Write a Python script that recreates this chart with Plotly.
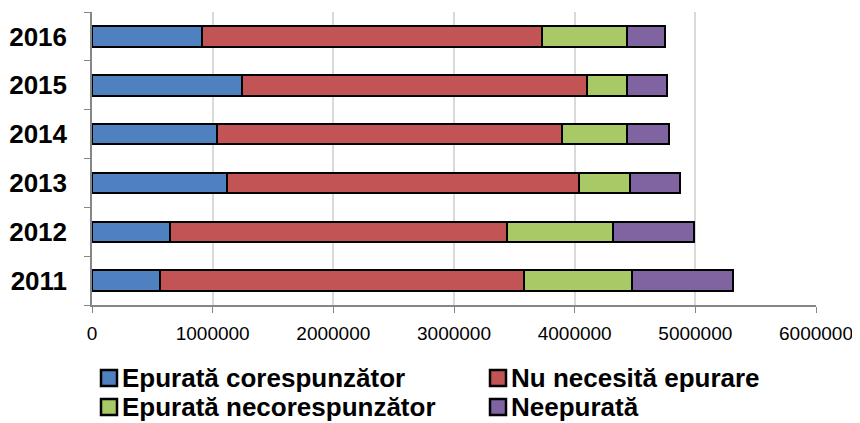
import plotly.graph_objects as go

years = ["2011", "2012", "2013", "2014", "2015", "2016"]
epurata_corespunzator = [567000, 647000, 1115000, 1037000, 1242000, 913000]
nu_necesita_epurare = [3012000, 2794000, 2921000, 2855000, 2858000, 2818000]
epurata_necorespunzator = [899000, 880000, 426000, 542000, 332000, 703000]
neepurata = [830000, 667000, 412000, 351000, 331000, 315000]

series = [
    ("Epurată corespunzător", epurata_corespunzator, "#4F80BF"),
    ("Nu necesită epurare", nu_necesita_epurare, "#C25455"),
    ("Epurată necorespunzător", epurata_necorespunzator, "#A9C866"),
    ("Neepurată", neepurata, "#8064A2"),
]

fig = go.Figure()
for name, vals, col in series:
    fig.add_trace(go.Bar(
        y=years, x=vals, name=name, orientation="h",
        marker=dict(color=col, line=dict(color="#000000", width=2)),
        width=0.42, showlegend=False,
    ))

# plot area in window pixels
PX0, PX1, PY0, PY1 = 92, 816, 12, 305
PW, PH = PX1 - PX0, PY1 - PY0

legend_pos = [(101, 378), (490, 378), (101, 407), (490, 407)]
for (name, vals, col), (lx, ly) in zip(series, legend_pos):
    fig.add_shape(type="rect", xref="paper", yref="paper",
                  x0=(lx - PX0) / PW, x1=(lx + 16 - PX0) / PW,
                  y0=(PY1 - (ly + 8)) / PH, y1=(PY1 - (ly - 8)) / PH,
                  fillcolor=col, line=dict(color="#000000", width=2.5))
    fig.add_annotation(xref="paper", yref="paper",
                       x=(lx + 20 - PX0) / PW, y=(PY1 - ly) / PH,
                       xanchor="left", yanchor="middle", showarrow=False,
                       text=name, borderpad=0,
                       font=dict(size=26, family="Arial, Liberation Sans", color="#000000", weight="bold"))

# page has an 8px body margin: figure sized/positioned accordingly
fig.update_layout(
    barmode="stack",
    width=852, height=415,
    margin=dict(l=PX0 - 8, r=852 - (PX1 - 8), t=PY0 - 8, b=415 - (PY1 - 8), autoexpand=False),
    plot_bgcolor="white", paper_bgcolor="white",
    font=dict(family="Arial, Liberation Sans", color="#000000"),
    showlegend=False,
    xaxis=dict(
        range=[0, 6000000], dtick=1000000, tickformat="d",
        showgrid=True, gridcolor="#D9D9D9", gridwidth=1.5,
        showline=True, linecolor="#868686", linewidth=1.5,
        ticks="outside", ticklen=6, tickcolor="#868686",
        tickfont=dict(size=19), zeroline=False, ticklabelstandoff=4,
    ),
    yaxis=dict(
        range=[-0.5, 5.5], type="category",
        showline=True, linecolor="#868686", linewidth=1.5,
        ticks="outside", ticklen=6, tickcolor="#868686", tickson="boundaries",
        tickfont=dict(size=26, weight="bold"), showgrid=False,
        ticklabelstandoff=18,
    ),
)

fig.write_html("out.html")
